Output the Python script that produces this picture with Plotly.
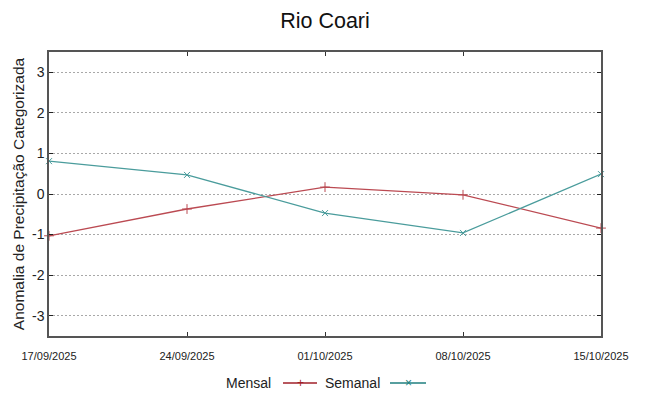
import plotly.graph_objects as go

dates = ["2025-09-17", "2025-09-24", "2025-10-01", "2025-10-08", "2025-10-15"]
tick_labels = ["17/09/2025", "24/09/2025", "01/10/2025", "08/10/2025", "15/10/2025"]
y_ticks = [-3, -2, -1, 0, 1, 2, 3]
y_tick_labels = ["-3", "-2", "-1", "0", "1", "2", "3"]
mensal = [-1.03, -0.37, 0.17, -0.02, -0.84]
semanal = [0.81, 0.47, -0.47, -0.96, 0.49]

red = "#bb4a52"
teal = "#4a9c9c"
font = "Liberation Sans, Arial, sans-serif"

# the page body adds an 8px offset; size the figure to fit the window
OFF = 8
W, H = 649 - OFF, 396 - OFF
L, T = 49 - OFF, 52 - OFF
R = W - (601 - OFF)
B = H - (336 - OFF)
pw, ph = W - L - R, H - T - B

def px(x):
    return (x - OFF - L) / pw

def py(y):
    return (H - B - (y - OFF)) / ph

fig = go.Figure()
fig.add_trace(go.Scatter(x=dates, y=mensal, mode="lines+markers", name="Mensal",
                         line=dict(color=red, width=1.3),
                         marker=dict(symbol="cross-thin", size=7, line=dict(color=red, width=1)),
                         cliponaxis=False, showlegend=False))
fig.add_trace(go.Scatter(x=dates, y=semanal, mode="lines+markers", name="Semanal",
                         line=dict(color=teal, width=1.3),
                         marker=dict(symbol="x-thin", size=6, line=dict(color=teal, width=1)),
                         cliponaxis=False, showlegend=False))

fig.update_layout(
    width=W, height=H,
    margin=dict(l=L, r=R, t=T, b=B, autoexpand=False),
    paper_bgcolor="white", plot_bgcolor="white",
    font=dict(family=font, color="#222"),
    title=dict(text="Rio Coari", x=(325 - OFF) / W, xanchor="center",
               y=1 - (20 - OFF) / H, yanchor="middle",
               font=dict(size=21.5, color="#111")),
    xaxis=dict(type="date", range=[dates[0], dates[-1]], automargin=False,
               tickvals=dates, ticktext=tick_labels,
               tickfont=dict(size=11, color="#222"), ticklabelstandoff=9,
               showgrid=False, zeroline=False,
               showline=True, linecolor="#555", linewidth=1.5, mirror="ticks",
               ticks="inside", ticklen=4, tickcolor="#333"),
    yaxis=dict(range=[-3.5, 3.5], tickvals=y_ticks, ticktext=y_tick_labels, automargin=False,
               tickfont=dict(size=14, color="#222"),
               showgrid=True, gridcolor="#a8a8a8", griddash="2px,2px", gridwidth=1,
               zeroline=False,
               showline=True, linecolor="#555", linewidth=1.5, mirror="ticks",
               ticks="inside", ticklen=4, tickcolor="#222",
               title=dict(text="Anomalia de Precipitação Categorizada",
                          font=dict(size=15.5, color="#222"), standoff=4)),
)

# custom legend (text before symbol, gnuplot style)
ly = py(383)
fig.add_annotation(x=px(273), y=ly, xref="paper", yref="paper", text="Mensal",
                   showarrow=False, xanchor="right", yanchor="middle", font=dict(size=14, color="#222"))
fig.add_shape(type="line", xref="paper", yref="paper", x0=px(283), x1=px(317),
              y0=ly, y1=ly, line=dict(color="#a02028", width=1.3))
fig.add_annotation(x=px(300), y=ly, xref="paper", yref="paper", text="+",
                   showarrow=False, xanchor="center", yanchor="middle", font=dict(size=12, color="#a02028"))
fig.add_annotation(x=px(382), y=ly, xref="paper", yref="paper", text="Semanal",
                   showarrow=False, xanchor="right", yanchor="middle", font=dict(size=14, color="#222"))
fig.add_shape(type="line", xref="paper", yref="paper", x0=px(390), x1=px(426),
              y0=ly, y1=ly, line=dict(color="#1f7f7f", width=1.3))
fig.add_annotation(x=px(408), y=ly, xref="paper", yref="paper", text="×",
                   showarrow=False, xanchor="center", yanchor="middle", font=dict(size=12, color="#1f7f7f"))

fig.write_html("out.html")
